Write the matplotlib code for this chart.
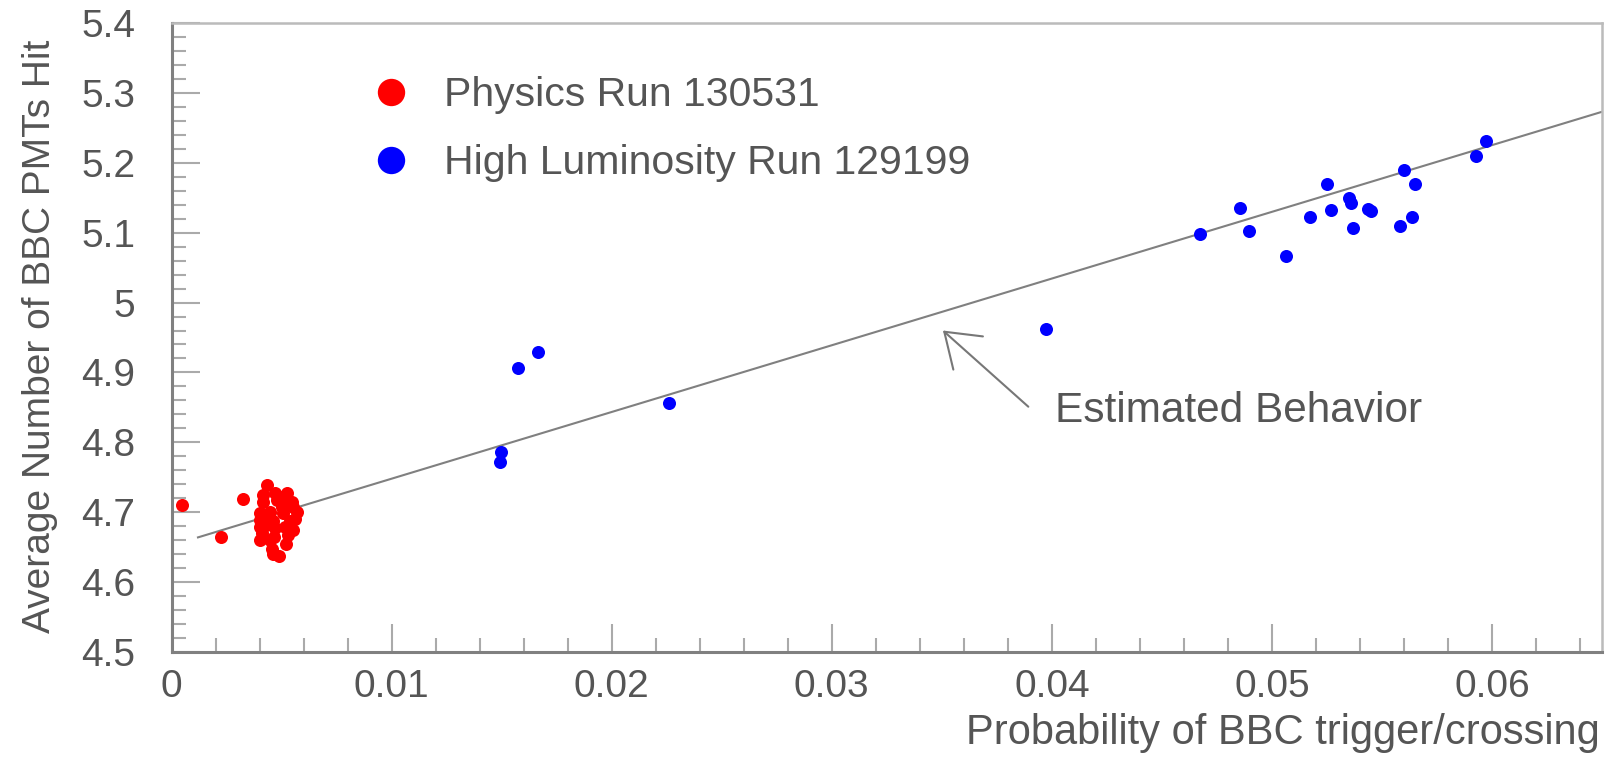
import matplotlib
matplotlib.use('Agg')
import matplotlib.pyplot as plt
from matplotlib.ticker import MultipleLocator, FormatStrFormatter

plt.rcParams['font.family'] = ['Liberation Sans', 'DejaVu Sans']

# Physics Run 130531 (red)
phys_x = [0.00046, 0.00224, 0.00324, 0.00433, 0.0047, 0.00417, 0.00524, 0.00417,
          0.00478, 0.00546, 0.00554, 0.00501, 0.00402, 0.00448, 0.00508, 0.00402,
          0.00463, 0.00539, 0.00404, 0.00470, 0.00516, 0.00554, 0.0041, 0.00465,
          0.00531, 0.00404, 0.00448, 0.00455, 0.0046, 0.0049, 0.0052, 0.0057,
          0.0056, 0.0044, 0.0050, 0.0043]
phys_y = [4.710, 4.664, 4.719, 4.739, 4.727, 4.725, 4.727, 4.715,
          4.718, 4.715, 4.708, 4.708, 4.699, 4.701, 4.699, 4.689,
          4.687, 4.687, 4.679, 4.677, 4.679, 4.675, 4.670, 4.665,
          4.668, 4.660, 4.660, 4.648, 4.640, 4.638, 4.655, 4.700,
          4.690, 4.692, 4.722, 4.682]

# High Luminosity Run 129199 (blue)
lumi_x = [0.01493, 0.01498, 0.01574, 0.01667, 0.02261, 0.03974,
          0.04675, 0.04857, 0.04898, 0.05063, 0.05175, 0.05248, 0.05270,
          0.05349, 0.05357, 0.05367, 0.05437, 0.05452, 0.05580, 0.05599,
          0.05637, 0.05649, 0.05925, 0.05974]
lumi_y = [4.772, 4.786, 4.906, 4.929, 4.856, 4.962,
          5.098, 5.136, 5.103, 5.066, 5.122, 5.170, 5.132,
          5.149, 5.142, 5.106, 5.134, 5.131, 5.109, 5.190,
          5.122, 5.170, 5.210, 5.231]

# estimated behaviour line end points
fit_x = [0.0012, 0.065]
fit_y = [4.664, 5.273]

fig = plt.figure(figsize=(16.08, 7.57), dpi=100)
ax = fig.add_axes([0.1067, 0.1387, 0.9963 - 0.1067, 0.9696 - 0.1387])

ax.plot(fit_x, fit_y, color='#808080', lw=1.5, zorder=2)
ax.scatter(phys_x, phys_y, s=88, color='#ff0000', linewidths=0, zorder=3,
           label='Physics Run 130531')
ax.scatter(lumi_x, lumi_y, s=88, color='#0000ff', linewidths=0, zorder=3,
           label='High Luminosity Run 129199')

ax.set_xlim(0, 0.065)
ax.set_ylim(4.5, 5.4)
ax.xaxis.set_major_locator(MultipleLocator(0.01))
ax.xaxis.set_minor_locator(MultipleLocator(0.002))
ax.yaxis.set_major_locator(MultipleLocator(0.1))
ax.yaxis.set_minor_locator(MultipleLocator(0.02))
ax.xaxis.set_major_formatter(FormatStrFormatter('%g'))
ax.yaxis.set_major_formatter(FormatStrFormatter('%g'))

ax.tick_params(which='both', direction='in', top=False, right=False,
               colors='#aaaaaa', labelcolor='#555555', labelsize=28)
ax.tick_params(which='major', length=20, width=1.5)
ax.tick_params(which='minor', length=10, width=1.5)
ax.tick_params(axis='y', pad=26)
ax.tick_params(axis='x', pad=12)

for side in ['left', 'bottom']:
    ax.spines[side].set_color('#808080')
    ax.spines[side].set_linewidth(2.2)
for side in ['top', 'right']:
    ax.spines[side].set_color('#bbbbbb')
    ax.spines[side].set_linewidth(1.8)

fig.text(40 / 1608, 1 - 336 / 757, 'Average Number of BBC PMTs Hit',
         rotation=90, ha='center', va='center', fontsize=28, color='#555555')
fig.text(1600 / 1608, 1 - 733 / 757, 'Probability of BBC trigger/crossing',
         ha='right', va='center', fontsize=30, color='#555555')

leg = ax.legend(loc='upper left', bbox_to_anchor=(371 / 1608, 1 - 76 / 757),
                bbox_transform=fig.transFigure, frameon=False, fontsize=29.5,
                markerscale=2.1, handlelength=1.0, handletextpad=0.78,
                borderpad=0, borderaxespad=0, labelspacing=0.74, scatteryoffsets=[0.5])
for t in leg.get_texts():
    t.set_color('#555555')

ax.annotate('', xy=(0.03505, 4.960), xytext=(0.03893, 4.851),
            arrowprops=dict(arrowstyle='->,head_length=0.575,head_width=0.4',
                            color='#777777', lw=1.5, mutation_scale=40,
                            shrinkA=0, shrinkB=0))
ax.text(0.04016, 4.845, 'Estimated Behavior', ha='left', va='center',
        fontsize=30.5, color='#555555')

fig.savefig('out.png', dpi=100)
